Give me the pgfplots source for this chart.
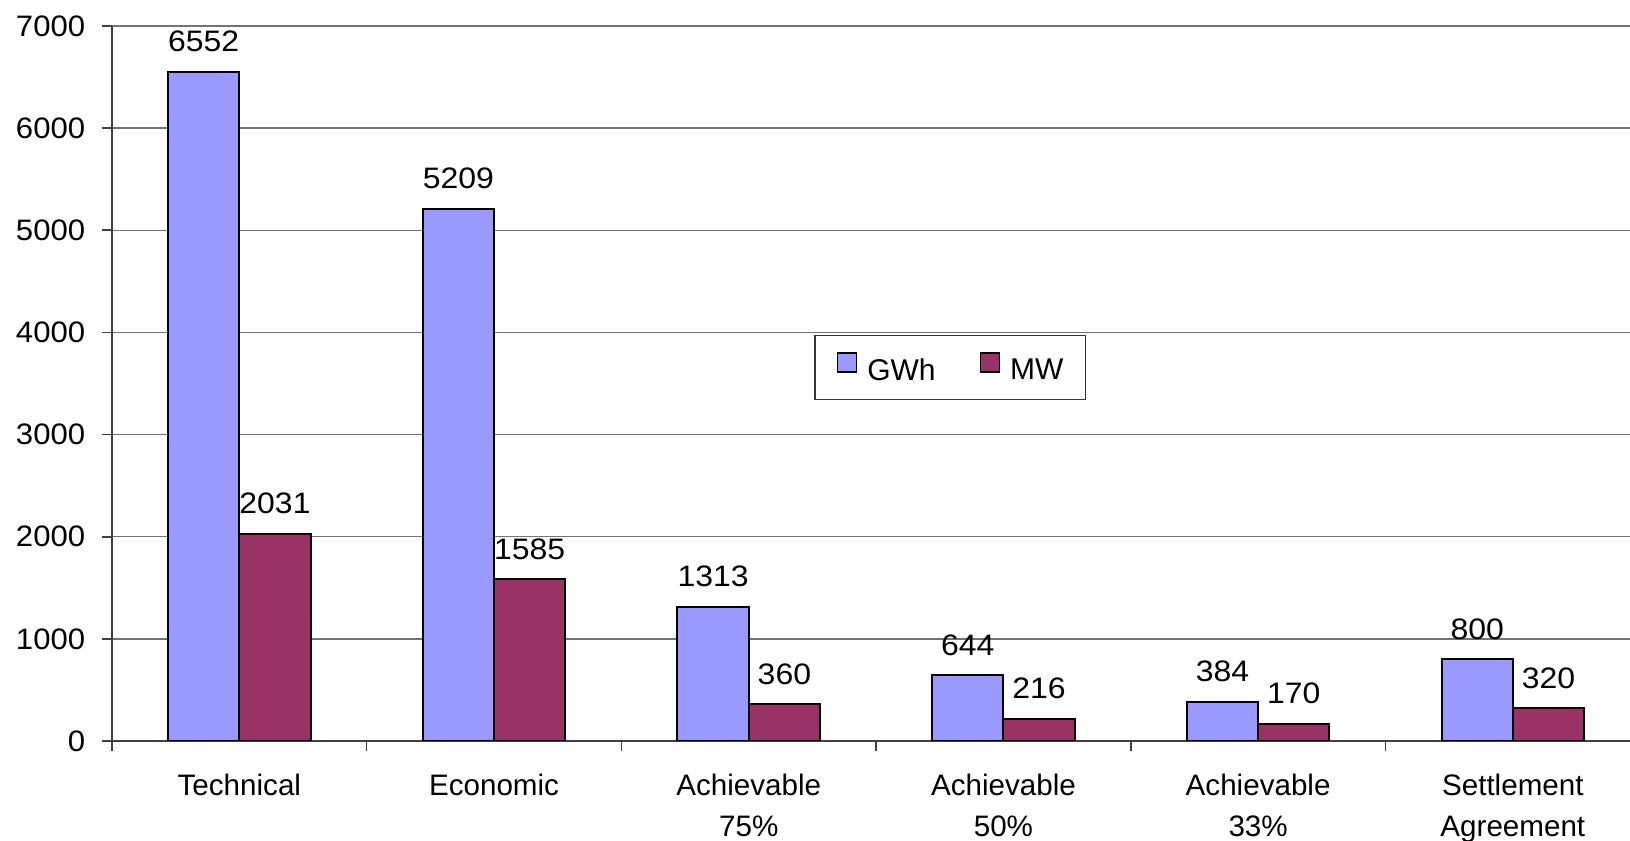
\documentclass[border=0pt]{standalone}
\usepackage{fontspec}
\setmainfont{Liberation Sans}
\usepackage{pgfplots}
\pgfplotsset{compat=1.18}
\usetikzlibrary{calc}
\definecolor{gwh}{HTML}{9999FF}
\definecolor{mw}{HTML}{993366}
\begin{document}
\begin{tikzpicture}
\begin{axis}[name=ax, scale only axis, width=759pt, height=357.5pt,
  xmin=-0.5, xmax=5.46, ymin=0, ymax=7000,
  axis x line=bottom, axis y line=left,
  axis line style={-, draw=black!75, line width=0.8pt},
  ytick={0,1000,...,7000}, ymajorgrids,
  grid style={black!55, line width=0.75pt},
  xtick={0,...,5},
  xticklabels={Technical,Economic,{Achievable\\75\%},{Achievable\\50\%},{Achievable\\33\%},{Settlement\\Agreement}},
  xticklabel style={align=center, font=\fontsize{14.8}{20.5}\selectfont, anchor=north, yshift=-8pt},
  yticklabel style={font=\fontsize{14.8}{18}\selectfont, xscale=1.05, xshift=-4.5pt},
  major x tick style={draw=none},
  minor xtick={-0.5,0.5,...,5.5},
  tick align=outside, major tick length=5pt, minor tick length=5pt,
  tick style={draw=black!75, line width=0.8pt},
  /pgf/number format/.cd, assume math mode=true, 1000 sep={},
  /pgfplots/.cd,
  ybar=0pt, bar width=0.28,
  nodes near coords,
  every node near coord/.append style={font=\fontsize{14.8}{18}\selectfont, xscale=1.08, yshift=6pt, /pgf/number format/1000 sep={}, /pgf/number format/assume math mode=true},
  legend columns=2,
  legend image code/.code={\draw[#1, line width=0.75pt] (0pt,-0.5pt) rectangle (9.5pt,9pt);},
  legend style={at={(0.4625,0.568)}, anchor=north west, draw=black!80, line width=0.75pt,
    inner xsep=11pt, inner ysep=8.2pt, font=\fontsize{15}{18}\selectfont,
    nodes={inner sep=0pt},
    /tikz/every odd column/.append style={column sep=5pt},
    /tikz/every even column/.append style={column sep=22pt}},
]
\addplot[fill=gwh, draw=black, line width=1pt, bar shift=-0.14] coordinates {(0,6552) (1,5209) (2,1313) (3,644) (4,384) (5,800)};
\addplot[fill=mw, draw=black, line width=1pt, bar shift=0.14] coordinates {(0,2031) (1,1585) (2,360) (3,216) (4,170) (5,320)};
\legend{GWh,MW}
\end{axis}
\pgfresetboundingbox
\path ($(ax.south west)+(-56pt,-50pt)$) rectangle ($(ax.south west)+(759pt,370.5pt)$);
\end{tikzpicture}
\end{document}
